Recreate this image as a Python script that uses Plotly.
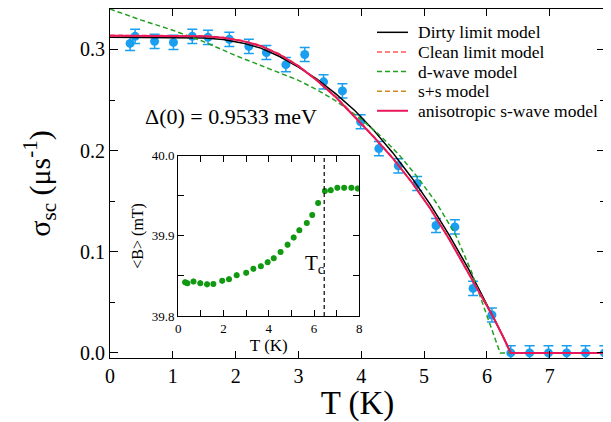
import plotly.graph_objects as go

# ---- main panel data: superconducting relaxation rate ----
T_data = [0.32, 0.40, 0.71, 1.01, 1.31, 1.56, 1.90, 2.21, 2.49, 2.80, 3.10, 3.40, 3.70, 3.99,
          4.28, 4.59, 4.89, 5.19, 5.49, 5.78, 6.08, 6.38, 6.68, 6.98, 7.27, 7.57, 7.87]
sigma_data = [0.306, 0.313, 0.308, 0.307, 0.313, 0.312, 0.310, 0.303, 0.297, 0.285, 0.295, 0.268,
              0.259, 0.2285, 0.202, 0.185, 0.1675, 0.126, 0.1246, 0.0638, 0.0375, 0.0, 0.0, 0.0,
              0.0, 0.0, 0.0]
sigma_err = [0.007] * len(T_data)

# ---- model curves ----
T_dirty = [0, 0.5, 1.0, 1.5, 1.8, 2.1, 2.4, 2.7, 3.0, 3.3, 3.6, 3.9, 4.2, 4.5, 4.8, 5.1, 5.4,
           5.7, 5.9, 6.1, 6.25, 6.38, 7.9]
sigma_dirty = [0.312, 0.312, 0.312, 0.3113, 0.3098, 0.3065, 0.3013, 0.293, 0.2826, 0.2705,
               0.2558, 0.2395, 0.220, 0.198, 0.1735, 0.1466, 0.1165, 0.0838, 0.060, 0.036,
               0.0172, 0.0, 0.0]

T_aniso = [0, 0.5, 1.0, 1.5, 1.8, 2.1, 2.4, 2.7, 3.0, 3.3, 3.6, 3.9, 4.2, 4.5, 4.8, 5.1, 5.4,
           5.7, 5.9, 6.1, 6.25, 6.38, 7.9]
sigma_aniso = [0.3135, 0.3135, 0.3135, 0.313, 0.3115, 0.3085, 0.3035, 0.295, 0.2835, 0.269,
               0.2525, 0.2335, 0.2135, 0.1925, 0.169, 0.1425, 0.1125, 0.0795, 0.058, 0.0355,
               0.017, 0.0, 0.0]

T_clean = T_aniso
sigma_clean = [0.314, 0.314, 0.314, 0.3135, 0.312, 0.309, 0.304, 0.2955, 0.284, 0.2695,
               0.253, 0.234, 0.2138, 0.1928, 0.1692, 0.1427, 0.1127, 0.0797, 0.0582, 0.0356,
               0.0171, 0.0, 0.0]

T_ss = T_aniso
sigma_ss = [0.3135, 0.3135, 0.3135, 0.313, 0.3115, 0.3085, 0.3035, 0.295, 0.2835, 0.269,
            0.2525, 0.2335, 0.2135, 0.1925, 0.169, 0.1425, 0.1125, 0.0795, 0.058, 0.0355,
            0.017, 0.0, 0.0]

T_dwave = [0, 0.5, 1.0, 1.5, 2.0, 2.5, 3.0, 3.3, 3.6, 4.0, 4.3, 4.6, 4.9, 5.2, 5.5, 5.75,
           6.0, 6.1, 6.21, 7.9]
sigma_dwave = [0.340, 0.329, 0.319, 0.3075, 0.294, 0.2815, 0.2695, 0.260, 0.249, 0.231, 0.215,
               0.196, 0.1735, 0.148, 0.117, 0.081, 0.038, 0.020, 0.0, 0.0]

model_names = ["Dirty limit model", "Clean limit model", "d-wave model", "s+s model",
               "anisotropic s-wave model"]
model_colors = ["black", "#ff5555", "#22a022", "#d08a20", "#e8185a"]
model_dashes = ["solid", "5px,3px", "5px,3px", "5px,3px", "solid"]
model_widths = [1.5, 1.5, 1.5, 1.5, 2]

# ---- inset data: average field ----
T_inset = [0.30, 0.40, 0.67, 0.97, 1.27, 1.55, 1.94, 2.24, 2.58, 3.00, 3.32, 3.65, 3.95, 4.22,
           4.52, 4.83, 5.10, 5.35, 5.68, 5.92, 6.18, 6.48, 6.74, 7.03, 7.33, 7.65, 7.93]
B_inset = [39.842, 39.841, 39.843, 39.841, 39.8395, 39.840, 39.844, 39.846, 39.851, 39.854,
           39.859, 39.862, 39.867, 39.872, 39.880, 39.889, 39.898, 39.907, 39.916, 39.926,
           39.941, 39.956, 39.957, 39.960, 39.960, 39.960, 39.959]
B_err = [0.0035] * len(T_inset)
Tc_inset = 6.45
B_range = [39.8, 40.0]

FONT = "Liberation Serif"
BLUE = "#1a9ff0"
GREEN = "#119911"

fig = go.Figure()

fig.add_trace(go.Scatter(
    x=T_data, y=sigma_data, mode="markers", showlegend=False,
    marker=dict(color=BLUE, size=9),
    error_y=dict(type="data", array=sigma_err, color=BLUE, thickness=1.5, width=5),
))

model_T = [T_dirty, T_clean, T_dwave, T_ss, T_aniso]
model_sigma = [sigma_dirty, sigma_clean, sigma_dwave, sigma_ss, sigma_aniso]
for name, xs, ys, col, dsh, w in zip(model_names, model_T, model_sigma, model_colors,
                                     model_dashes, model_widths):
    fig.add_trace(go.Scatter(x=xs, y=ys, mode="lines", name=name, showlegend=False,
                             line=dict(color=col, width=w, dash=dsh)))

# inset
fig.add_trace(go.Scatter(
    x=T_inset, y=B_inset, mode="markers", showlegend=False, xaxis="x2", yaxis="y2",
    marker=dict(color=GREEN, size=6),
    error_y=dict(type="data", array=B_err, color=GREEN, thickness=1.5, width=0),
))
fig.add_trace(go.Scatter(
    x=[Tc_inset, Tc_inset], y=B_range, mode="lines", showlegend=False, xaxis="x2", yaxis="y2",
    line=dict(color="black", width=1.2, dash="4px,3px"),
))

# hand-drawn legend (tighter row spacing than plotly's legend allows)
leg_x0, leg_x1, leg_tx = 0.5394, 0.602, 0.618
leg_y0, leg_dy = 0.9332, 0.0562
shapes = []
annotations = []
for i, (name, col, dsh, w) in enumerate(zip(model_names, model_colors, model_dashes,
                                            model_widths)):
    yy = leg_y0 - i * leg_dy
    shapes.append(dict(type="line", xref="paper", yref="paper", x0=leg_x0, x1=leg_x1,
                       y0=yy, y1=yy, line=dict(color=col, width=w, dash=dsh)))
    annotations.append(dict(x=leg_tx, y=yy, xref="paper", yref="paper", text=name,
                            showarrow=False, xanchor="left", yanchor="middle",
                            font=dict(size=17.5)))

annotations += [
    dict(x=0.52, y=0.234, xref="x", yref="y", text="Δ(0) = 0.9533 meV", showarrow=False,
         xanchor="left", yanchor="middle", font=dict(size=22)),
    dict(x=5.5, y=39.865, xref="x2", yref="y2", text="T<sub>c</sub>", showarrow=False,
         xanchor="left", yanchor="middle", font=dict(size=21)),
]

axis_common = dict(showline=True, linecolor="black", linewidth=1.2, mirror="allticks",
                   ticks="inside", tickcolor="black", showgrid=False, zeroline=False,
                   automargin=False)

# the page body adds an 8px offset, so the figure is 8px smaller and margins shifted
fig.update_layout(
    width=603, height=414, autosize=False,
    margin=dict(l=102, r=6, t=1, b=64),
    paper_bgcolor="white", plot_bgcolor="white",
    font=dict(family=FONT, color="black"),
    showlegend=False,
    xaxis=dict(**axis_common, range=[0, 7.88], dtick=1, tick0=0, ticklen=7, tickwidth=1.2,
               tickfont=dict(size=20),
               title=dict(text="T (K)", font=dict(size=33), standoff=6)),
    yaxis=dict(**axis_common, range=[-0.005, 0.34], dtick=0.1, tick0=0, ticklen=8, tickwidth=1.2,
               tickformat=".1f", tickfont=dict(size=20),
               minor=dict(dtick=0.05, ticklen=5, tickwidth=1.2, tickcolor="black", ticks="inside"),
               title=dict(text="σ<sub>sc</sub> (μs<sup>-1</sup>)", font=dict(size=30), standoff=20)),
    xaxis2=dict(**axis_common, domain=[0.138, 0.5036], anchor="y2", range=[0, 8], dtick=2,
                ticklen=6, tickwidth=1, tickfont=dict(size=13),
                minor=dict(dtick=1, ticklen=6, tickwidth=1, tickcolor="black", ticks="inside"),
                title=dict(text="T (K)", font=dict(size=17), standoff=4)),
    yaxis2=dict(**axis_common, domain=[0.1203, 0.5797], anchor="x2", range=B_range, dtick=0.1,
                tick0=39.8, ticklen=6, tickwidth=1, tickformat=".1f", tickfont=dict(size=13),
                minor=dict(dtick=0.05, ticklen=6, tickwidth=1, tickcolor="black", ticks="inside"),
                title=dict(text="&lt;B&gt; (mT)", font=dict(size=16), standoff=4)),
    shapes=shapes,
    annotations=annotations,
)

fig.write_html("out.html")
